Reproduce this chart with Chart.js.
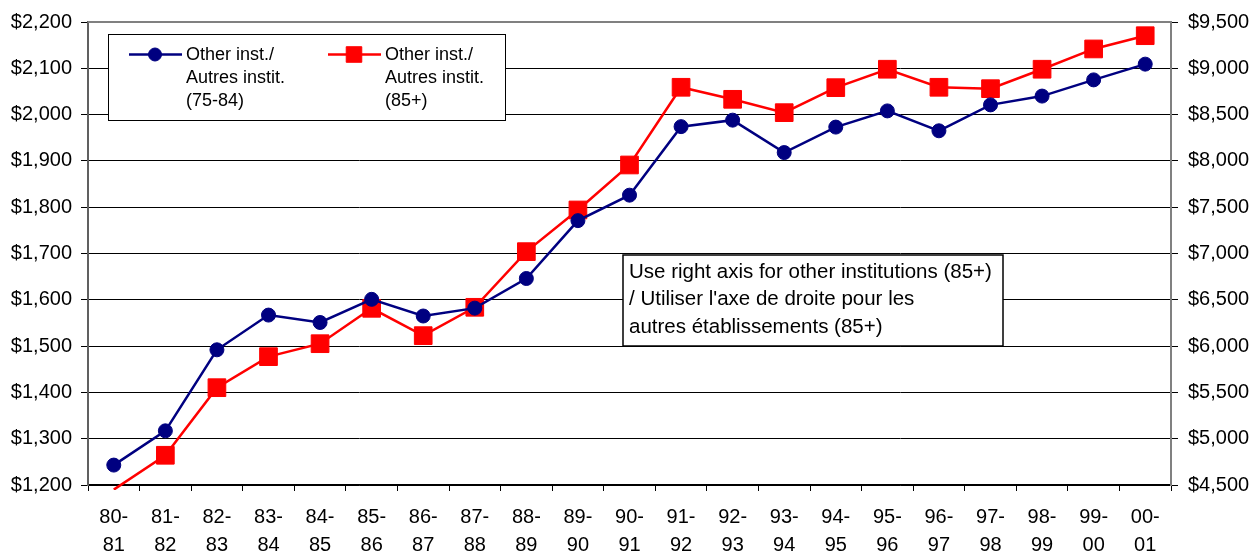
<!DOCTYPE html>
<html>
<head>
<meta charset="utf-8">
<script src="https://cdn.jsdelivr.net/npm/chart.js@4.4.0/dist/chart.umd.min.js"></script>
<style>
    html, body { margin: 0; padding: 0; background: #fff; }
    #wrap { position: relative; width: 1254px; height: 554px; }
</style>
</head>
<body>
<div id="wrap"><canvas id="myChart"></canvas></div>
<script>
// academic years, x axis
const years = ['80-81', '81-82', '82-83', '83-84', '84-85', '85-86', '86-87', '87-88', '88-89', '89-90',
    '90-91', '91-92', '92-93', '93-94', '94-95', '95-96', '96-97', '97-98', '98-99', '99-00', '00-01'];

// other institutions 75-84, left axis
const otherInst7584 = [1243, 1317, 1492, 1567, 1551, 1601, 1565, 1582, 1646, 1771,
    1826, 1974, 1988, 1918, 1973, 2008, 1965, 2021, 2040, 2075, 2109];

// other institutions 85+, right axis
const otherInst85 = [4450, 4821, 5551, 5886, 6026, 6408, 6113, 6419, 7020, 7470,
    7956, 8795, 8665, 8521, 8791, 8990, 8795, 8780, 8990, 9209, 9352];

// axis ranges
const leftAxis = { min: 1200, max: 2200, step: 100 };
const rightAxis = { min: 4500, max: 9500, step: 500 };

// texts
const legendLabels = [
    ['Other inst./', 'Autres instit.', '(75-84)'],
    ['Other inst./', 'Autres instit.', '(85+)']
];
const noteLines = [
    'Use right axis for other institutions (85+)',
    "/ Utiliser l'axe de droite pour les",
    'autres établissements (85+)'
];

const FONT = "'Liberation Sans', Arial, sans-serif";
Chart.defaults.font.family = FONT;
Chart.defaults.color = '#000';

const money = v => '$' + v.toLocaleString('en-US');

// legend box + note box drawn over the grid
const boxesPlugin = {
    id: 'boxes',
    afterDraw(chart) {
        const ctx = chart.ctx;
        ctx.save();

        // legend
        ctx.fillStyle = '#fff';
        ctx.fillRect(108.5, 34.5, 397, 86);
        ctx.strokeStyle = '#000';
        ctx.lineWidth = 1;
        ctx.strokeRect(108.5, 34.5, 397, 86);
        chart.data.datasets.forEach((ds, i) => {
            const x0 = 129 + i * 199;
            ctx.strokeStyle = ds.borderColor;
            ctx.lineWidth = 2.5;
            ctx.beginPath();
            ctx.moveTo(x0, 54.5);
            ctx.lineTo(x0 + 53, 54.5);
            ctx.stroke();
            ctx.fillStyle = ds.backgroundColor;
            ctx.lineWidth = 1;
            Chart.helpers.drawPoint(ctx, {
                pointStyle: ds.pointStyle,
                radius: i === 0 ? 6.5 : 11,
                borderWidth: 1
            }, x0 + 26, 54.5);
            ctx.fillStyle = '#000';
            ctx.font = '18px ' + FONT;
            ctx.textBaseline = 'middle';
            ctx.textAlign = 'left';
            legendLabels[i].forEach((line, j) => {
                ctx.fillText(line, x0 + 57, 55 + j * 22.8);
            });
        });

        // note
        ctx.fillStyle = '#fff';
        ctx.fillRect(623, 255, 380, 91);
        ctx.strokeStyle = '#000';
        ctx.lineWidth = 1.5;
        ctx.strokeRect(623, 255, 380, 91);
        ctx.fillStyle = '#000';
        ctx.font = '20.5px ' + FONT;
        ctx.textBaseline = 'middle';
        ctx.textAlign = 'left';
        noteLines.forEach((line, j) => {
            ctx.fillText(line, 629, 272 + j * 27.8);
        });

        // plot frame, top edge
        ctx.strokeStyle = '#808080';
        ctx.lineWidth = 2;
        ctx.beginPath();
        ctx.moveTo(chart.chartArea.left, chart.chartArea.top);
        ctx.lineTo(chart.chartArea.right, chart.chartArea.top);
        ctx.stroke();
        ctx.restore();
    }
};

const ctx = document.getElementById('myChart').getContext('2d');
const myChart = new Chart(ctx, {
    type: 'line',
    data: {
        labels: years,
        datasets: [
            {
                label: legendLabels[0].join(' '),
                data: otherInst7584,
                yAxisID: 'y',
                borderColor: '#000080',
                backgroundColor: '#000080',
                borderWidth: 2.5,
                pointStyle: 'circle',
                pointRadius: 7,
                pointBorderWidth: 1,
                tension: 0
            },
            {
                label: legendLabels[1].join(' '),
                data: otherInst85,
                yAxisID: 'y1',
                borderColor: '#ff0000',
                backgroundColor: '#ff0000',
                borderWidth: 2.5,
                pointStyle: 'rect',
                pointRadius: c => (c.raw < rightAxis.min ? 0 : 12.5),
                pointBorderWidth: 1,
                clip: { left: 0, right: 0, top: 0, bottom: 5 },
                tension: 0
            }
        ]
    },
    options: {
        responsive: true,
        maintainAspectRatio: false,
        animation: false,
        devicePixelRatio: 1,
        layout: { padding: { top: 22, left: 0, right: 0, bottom: 0 } },
        plugins: {
            legend: { display: false },
            tooltip: { enabled: false }
        },
        scales: {
            x: {
                offset: true,
                afterFit: s => { s.height = 69; },
                grid: {
                    offset: true,
                    drawOnChartArea: false,
                    color: '#000',
                    tickLength: 6
                },
                border: { color: '#000', width: 1.5 },
                ticks: {
                    maxRotation: 0,
                    autoSkip: false,
                    padding: 12,
                    font: { size: 20, lineHeight: 1.42 },
                    callback: function (v) {
                        const parts = this.getLabelForValue(v).split('-');
                        return [parts[0] + '-', parts[1]];
                    }
                }
            },
            y: {
                position: 'left',
                min: leftAxis.min,
                max: leftAxis.max,
                afterFit: s => { s.width = 88; },
                grid: { color: '#000', lineWidth: 1, tickLength: 7 },
                border: { color: '#606060', width: 2 },
                ticks: {
                    stepSize: leftAxis.step,
                    padding: 9,
                    font: { size: 20 },
                    callback: v => money(v)
                }
            },
            y1: {
                position: 'right',
                min: rightAxis.min,
                max: rightAxis.max,
                afterFit: s => { s.width = 83; },
                grid: { drawOnChartArea: false, color: '#000', tickLength: 7 },
                border: { color: '#808080', width: 2 },
                ticks: {
                    stepSize: rightAxis.step,
                    padding: 10,
                    font: { size: 20 },
                    callback: v => money(v)
                }
            }
        }
    },
    plugins: [boxesPlugin]
});
</script>
</body>
</html>
